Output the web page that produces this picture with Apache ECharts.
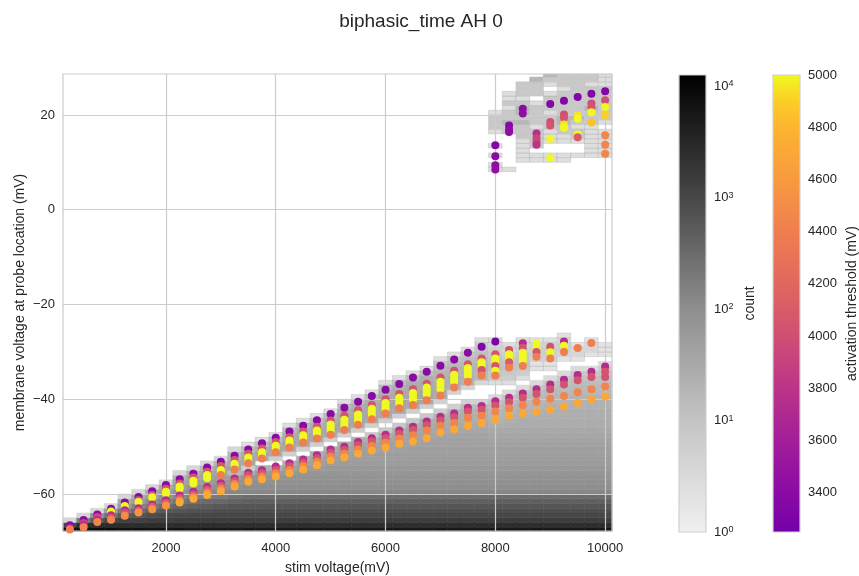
<!DOCTYPE html>
<html>
<head>
<meta charset="utf-8">
<script src="https://cdn.jsdelivr.net/npm/echarts@6/dist/echarts.min.js"></script>
<style>
  html, body { margin: 0; padding: 0; background: #ffffff; }
  #chart { width: 859px; height: 576px; }
</style>
</head>
<body>
<div id="chart"></div>
<script>
// ---- stimulation columns (mV) ----
const stimVoltages = [250, 500, 750, 1000, 1250, 1500, 1750, 2000, 2250, 2500,
  2750, 3000, 3250, 3500, 3750, 4000, 4250, 4500, 4750, 5000,
  5250, 5500, 5750, 6000, 6250, 6500, 6750, 7000, 7250, 7500,
  7750, 8000, 8250, 8500, 8750, 9000, 9250, 9500, 9750, 10000];

// ---- 2D histogram of membrane voltage per stim column ----
// bins are 250 mV wide (centred on the column) and 1 mV tall.
// each entry lists bins from histFloor upward as "level" or "level*repeat";
// level = 2*log10(count), "." = empty bin
const histBinX = 250;
const histBinY = 1;
const histFloor = -68;
// shared lower part of the columns from 3500 mV on (-68 .. -56 mV)
const histBase = "7.5,6.8,6.3,6,5.8,5.6,5.3,5,4.2,4,3.9,3.8";
const histColumns = [
  "7.8,6,1.2",
  "7.8,6.8,4.5,1.2",
  "7.8,6.8,5.5,3.8,1.2",
  "7.8,6.8,6,4.8,3.5,1.2",
  "7.7,6.8,6.2,5.5,4.5,3.5,3,1.2",
  "7.7,6.8,6.2,5.6,5,4.2,3.4,3,1.2",
  "7.6,6.8,6.3,5.8,5.3,4.6,4,3.4,3,1.2",
  "7.6,6.8,6.3,6,5.5,5,4.4,3.9,3.4,3,1.2",
  "7.6,6.8,6.3,6,5.6,5.2,4.7,4.2,3.8,3.4,3.2,2.6,1.2",
  "7.5,6.8,6.3,6,5.7,5.3,4.9,4.4,4,3.7,3.4,3.2,2.6,1.2",
  "7.5,6.8,6.3,6,5.7,5.4,5,4.5,4.1,3.8,3.5,3.3,3.1,2.6,1.2",
  "7.5,6.8,6.3,6,5.8,5.5,5.1,4.6,4.2,3.9,3.6,3.4,3.2,3.1,2.6,1.2",
  "7.5,6.8,6.3,6,5.8,5.6,5.2,4.8,4.2,3.9,3.7,3.4,2.4,3.2,3,2.6,2.4,1.2",
  histBase + ",2.8,1.5,3,3.1,2.8,2.3,0.8",
  histBase + ",3.6,2.8,.,3,3.1,2.9,2.3,0.8",
  histBase + ",3.6,2.8,.,1.5,3,3.1,2.9,2.3,0.8",
  histBase + ",3.6,3.3,2.8,.,1.5,3,3.1,3,2.8,2.3,0.8",
  histBase + ",3.7,3.5,3.3,2.8,.,1.5,3,3.1,3,2.8,2.3,0.8",
  histBase + ",3.7,3.5,3.4,3.2,2.8,.,1.5,3,3.1,3,2.8,2.3,0.8",
  histBase + ",3.7,3.6,3.5,3.4,3.2,2.8,.,1.5,3,3.1,3,2.8,2.3,0.8",
  histBase + ",3.7,3.6,3.5,3.4,3.3,3.2,2.8,.,1.5,3,3.1,3,3,2.8,2.3,0.8",
  histBase + ",3.7,3.6,3.5,3.4,3.4,3.3,3.2,2.8,.,1.5,3,3.1,3,3,2.8,2.3,0.8",
  histBase + ",3.7,3.6,3.5,3.4,3.4,3.3,3.2,2.8,1.8,.,1.5,3,3.1,3,3,2.8,2.3,0.8",
  histBase + ",3.7,3.6,3.5,3.4,3.4,3.3,3.3,3.2,2.8,1.8,.,1.5,3,3.1,3.1,3,3,2.8,2.3,0.8",
  histBase + ",3.7,3.6,3.5,3.4,3.4,3.3,3.3,3.2,3.1,2.8,1.8,.,1.5,3,3.1,3.1,3,3,2.8,2.3,0.8",
  histBase + ",3.7,3.6,3.5,3.5,3.4,3.4,3.3,3.3,3.2,3.1,2.8,1.8,.,1.5,3,3.1,3.1,3,3,2.8,2.3,0.8",
  histBase + ",3.7,3.6,3.5,3.5,3.4,3.4,3.3,3.3,3.2,3.1,3,2.8,1.8,.,1.5,3,3.1,3.1,3,3,2.8,2.3,0.8",
  histBase + ",3.7,3.6,3.5,3.5,3.4,3.4,3.3,3.3,3.2,3.1,3,2.9,2.6,1.6,.,1.4,2.8,2.9,2.9,2.8,2.7,2.6,2.4,2,0.8",
  histBase + ",3.7,3.6,3.5,3.5,3.4,3.4,3.3,3.3,3.2,3.1,3,2.9,2.8,2.5,1.5,.,.,1.3,2.7,2.8,2.8,2.7,2.6,2.4,2,0.8",
  histBase + ",3.7,3.6,3.5,3.5,3.4,3.4,3.3,3.3,3.2,3.1,3,2.9,2.8,2.7,2.4,1.4,.,.,1.3,2.6,2.7,2.7,2.6,2.5,2.3,1.9,0.8",
  histBase + ",3.7,3.6,3.5,3.5,3.4,3.4,3.3,3.3,3.2,3.1,3,2.9,2.8,2.7,2.4,1.4,.,.,.,1.2,2.4,2.5,2.6,2.5,2.4,2.2,2,1.7,0.8",
  histBase + ",3.7,3.6,3.5,3.5,3.4,3.4,3.3,3.2,3.1,3,2.8,2.7,2.6,2.5,2.3,2,1,.,.,0.8,1.8,2,2.2,2.2,2,1.8,1.6,1.3,0.8",
  histBase + ",3.7,3.6,3.5,3.5,3.4,3.4,3.3,3.2,3.1,3,2.9,2.8,2.7,2.6,2.5,2.3,2,1,.,0.8,1.6,1.8,2,2,1.8,1.5,1.2,0.8",
  histBase + ",3.7,3.6,3.5,3.5,3.4,3.4,3.3,3.2,3.1,3,2.9,2.9,2.8,2.7,2.6,2.5,2.3,2,1,.,0.8,1.6,1.8,2,2,1.8,1.5,1.2,0.8",
  histBase + ",3.7,3.6,3.5,3.5,3.4,3.4,3.3,3.2,3.1,3,2.9,2.9,2.8,2.7,2.6,2.5,2.4,2.2,1.9,1,.,.,0.6,0.6,1.4,1.6,1.6,1.3,0.7",
  histBase + ",3.7,3.6,3.5,3.5,3.4,3.4,3.3,3.2,3.1,3,2.9,2.9,2.8,2.8,2.7,2.6,2.5,2.4,2.2,1.9,1,.,0.6,0.6,1.4,1.6,1.6,1.3,0.7",
  histBase + ",3.7,3.6,3.5,3.5,3.4,3.4,3.3,3.2,3.1,3,2.9,2.9,2.8,2.8,2.7,2.6,2.5,2.4,2.3,2.1,1.8,1,.,.,0.6,1.3,1.6,1.5,1.2,0.7",
  histBase + ",3.7,3.6,3.5,3.5,3.4,3.4,3.3,3.2,3.1,3,2.9,2.9,2.8,2.8,2.7,2.7,2.6,2.5,2.4,2.3,2.1,1.8,1,.,0.6,1.2,1.2,0.6",
  histBase + ",3.7,3.6,3.5,3.5,3.4,3.4,3.3,3.2,3.1,3,2.9,2.9,2.8,2.8,2.7,2.7,2.6,2.5,2.4,2.3,2.1,1.8,1,.,.,0.6,1.2,1.2,0.6",
  histBase + ",3.7,3.6,3.5,3.5,3.4,3.4,3.3,3.2,3.1,3,2.9,2.9,2.8,2.8,2.7,2.7,2.6,2.5,2.4,2.3,2.2,2,1.7,1,.,0.6,0.6,0.6"
];

// depolarised cluster above 8 mV (same encoding, starting at depolFloor)
const depolFloor = 8;
const depolColumnsX = [8000, 8250, 8500, 8750, 9000, 9250, 9500, 9750, 10000];
const depolColumns = [
  "0.8*2,.,0.8,.,0.8,.*2,0.8,1.8*3,0.8",
  "0.8,.*7,1.8*2,2.5,1.8*2,0.8,1.8,0.8*2",
  ".*2,0.8*5,1.8*3,2.5,1.8,2.5*2,1.8,0.8,1.8*3",
  ".*2,0.8*2,.,1.8*4,0.8,1.8*4,0.8,.,1.8*3,2.5",
  ".*2,0.8*2,.*2,0.8*3,1.8*3,0.8,1.8*3,0.8,.,0.8,1.8,2.5",
  ".*2,0.8*2,.*2,0.8*2,1.8*2,2.5*2,1.8*5,0.8,1.8*3",
  ".*3,0.8,.*2,0.8,1.8*2,0.8,1.8,2.5,1.8*9",
  ".*3,0.8*7,1.8*3,2.5,1.8*4,0.8,1.8*2",
  ".*3,0.8*6,.,0.8,1.8*7,0.8*3"
];

// ---- activating sites: [stim voltage, membrane voltage, activation threshold] ----
const upperBand = [
  [250,-66.6,3400],[250,-67.2,3800],
  [500,-65.5,3400],[500,-66.1,3900],
  [750,-64.3,3400],[750,-64.9,4000],
  [1000,-63.1,3400],[1000,-63.7,5000],
  [1250,-61.8,3400],[1250,-62.5,5000],
  [1500,-60.6,3400],[1500,-61.3,4050],[1500,-61.7,5000],
  [1750,-59.4,3400],[1750,-60.2,4050],[1750,-60.7,5000],
  [2000,-58.1,3400],[2000,-58.9,4050],[2000,-59.5,5000],[2000,-59.9,5000],
  [2250,-56.9,3400],[2250,-57.8,4050],[2250,-58.4,5000],[2250,-58.9,5000],
  [2500,-55.7,3400],[2500,-56.5,4050],[2500,-57.2,5000],[2500,-57.8,5000],
  [2750,-54.4,3400],[2750,-55.3,4050],[2750,-56.0,5000],[2750,-56.6,5000],
  [3000,-53.2,3400],[3000,-54.1,4050],[3000,-54.9,5000],[3000,-55.5,5000],[3000,-56.0,4400],
  [3250,-51.9,3400],[3250,-52.8,4050],[3250,-53.6,5000],[3250,-54.2,5000],[3250,-54.8,4400],
  [3500,-50.6,3400],[3500,-51.5,4050],[3500,-52.3,5000],[3500,-52.9,5000],[3500,-53.5,4400],
  [3750,-49.3,3400],[3750,-50.4,4050],[3750,-51.2,5000],[3750,-51.9,5000],[3750,-52.5,4400],
  [4000,-48.1,3400],[4000,-49.0,4050],[4000,-49.8,5000],[4000,-50.5,5000],[4000,-51.2,4400],
  [4250,-46.8,3400],[4250,-48.0,4050],[4250,-48.7,5000],[4250,-49.4,5000],[4250,-50.2,4400],
  [4500,-45.6,3400],[4500,-46.8,4050],[4500,-47.6,5000],[4500,-48.3,5000],[4500,-49.1,4400],
  [4750,-44.4,3400],[4750,-45.8,4050],[4750,-46.6,5000],[4750,-47.3,5000],[4750,-48.3,4400],
  [5000,-43.1,3400],[5000,-44.5,4050],[5000,-45.3,5000],[5000,-46.0,5000],[5000,-46.7,5000],[5000,-47.5,4400],
  [5250,-41.8,3400],[5250,-43.5,4050],[5250,-44.3,5000],[5250,-45.0,5000],[5250,-45.7,5000],[5250,-46.5,4400],
  [5500,-40.5,3400],[5500,-42.3,4050],[5500,-43.2,5000],[5500,-43.9,5000],[5500,-44.6,5000],[5500,-45.4,4400],
  [5750,-39.3,3400],[5750,-41.2,4050],[5750,-42.0,5000],[5750,-42.7,5000],[5750,-43.4,5000],[5750,-44.2,4400],
  [6000,-38.0,3400],[6000,-40.0,4050],[6000,-40.8,5000],[6000,-41.5,5000],[6000,-42.2,5000],[6000,-43.0,4400],
  [6250,-36.8,3400],[6250,-38.9,4050],[6250,-39.7,5000],[6250,-40.4,5000],[6250,-41.1,5000],[6250,-41.9,4400],
  [6500,-35.4,3400],[6500,-37.9,4050],[6500,-38.7,5000],[6500,-39.4,5000],[6500,-40.1,5000],[6500,-41.2,4400],
  [6750,-34.2,3400],[6750,-36.7,4050],[6750,-37.5,5000],[6750,-38.2,5000],[6750,-38.9,5000],[6750,-40.2,4400],
  [7000,-32.9,3400],[7000,-35.4,4050],[7000,-36.3,5000],[7000,-37.0,5000],[7000,-37.8,5000],[7000,-39.2,4400],
  [7250,-31.6,3400],[7250,-34.0,4050],[7250,-34.8,5000],[7250,-35.5,5000],[7250,-36.2,5000],[7250,-37.5,4400],
  [7500,-30.2,3400],[7500,-32.6,4050],[7500,-33.4,5000],[7500,-34.2,5000],[7500,-35.0,5000],[7500,-36.3,4400],
  [7750,-28.9,3350],[7750,-31.4,4050],[7750,-32.2,5000],[7750,-33.0,5000],[7750,-33.8,4050],[7750,-35.0,4400],
  [8000,-27.8,3300],[8000,-30.5,4050],[8000,-31.4,5000],[8000,-32.2,5000],[8000,-33.0,4050],[8000,-34.0,5000],[8000,-35.0,4400],
  [8250,-29.6,4050],[8250,-30.5,5000],[8250,-31.3,5000],[8250,-32.2,4100],[8250,-33.3,4400],
  [8500,-28.2,3750],[8500,-29.1,4050],[8500,-30.2,5000],[8500,-31.0,5000],[8500,-31.8,5000],[8500,-33.0,4400],
  [8750,-28.3,5000],[8750,-29.4,5000],[8750,-30.0,4050],[8750,-31.0,4400],
  [9000,-28.9,4050],[9000,-30.1,5000],[9000,-31.4,4400],
  [9250,-27.8,3750],[9250,-28.7,5000],[9250,-30.0,4400],
  [9500,-29.2,4400],
  [9750,-28.1,4400]
];

const lowerBand = [
  [250,-67.5,4400],
  [500,-66.6,3750],[500,-67.0,4450],
  [750,-65.4,3750],[750,-65.9,4450],
  [1000,-64.5,3750],[1000,-65.0,4050],[1000,-65.4,4450],
  [1250,-63.4,3750],[1250,-64.0,4050],[1250,-64.6,4500],
  [1500,-63.0,3750],[1500,-63.5,4100],[1500,-63.9,4550],
  [1750,-62.2,3750],[1750,-62.7,4100],[1750,-63.2,4550],
  [2000,-61.3,3750],[2000,-61.9,4100],[2000,-62.4,4550],
  [2250,-60.3,3750],[2250,-60.9,4100],[2250,-61.4,4500],[2250,-61.8,4700],
  [2500,-59.5,3750],[2500,-60.1,4100],[2500,-60.6,4450],[2500,-61.0,4700],
  [2750,-58.5,3750],[2750,-59.1,4100],[2750,-59.7,4450],[2750,-60.2,4700],
  [3000,-57.7,3750],[3000,-58.3,4100],[3000,-58.9,4450],[3000,-59.4,4700],
  [3250,-56.7,3750],[3250,-57.3,4050],[3250,-57.9,4450],[3250,-58.4,4700],
  [3500,-55.5,3750],[3500,-56.1,4050],[3500,-56.8,4450],[3500,-57.4,4700],
  [3750,-55.0,3750],[3750,-55.6,4050],[3750,-56.3,4450],[3750,-56.9,4700],
  [4000,-54.2,3750],[4000,-54.9,4050],[4000,-55.6,4450],[4000,-56.3,4700],
  [4250,-53.5,3750],[4250,-54.2,4050],[4250,-54.9,4450],[4250,-55.6,4700],
  [4500,-52.7,3750],[4500,-53.4,4050],[4500,-54.1,4450],[4500,-54.8,4700],
  [4750,-51.8,3750],[4750,-52.5,4050],[4750,-53.2,4450],[4750,-53.9,4700],
  [5000,-50.6,3750],[5000,-51.3,4050],[5000,-52.1,4450],[5000,-52.9,4700],
  [5250,-50.0,3750],[5250,-50.7,4050],[5250,-51.5,4450],[5250,-52.3,4700],
  [5500,-49.0,3750],[5500,-49.7,4050],[5500,-50.6,4450],[5500,-51.5,4700],
  [5750,-48.2,3750],[5750,-48.9,4050],[5750,-49.8,4450],[5750,-50.8,4700],
  [6000,-47.5,3750],[6000,-48.2,4050],[6000,-49.2,4450],[6000,-50.2,4700],
  [6250,-46.6,3750],[6250,-47.3,4050],[6250,-48.3,4450],[6250,-49.4,4700],
  [6500,-45.8,3750],[6500,-46.5,4050],[6500,-47.6,4450],[6500,-48.9,4700],
  [6750,-44.7,3750],[6750,-45.5,4050],[6750,-46.6,4450],[6750,-48.2,4700],
  [7000,-43.7,3750],[7000,-44.5,4050],[7000,-45.6,4450],[7000,-47.0,4700],
  [7250,-43.0,3750],[7250,-43.8,4050],[7250,-45.0,4450],[7250,-46.4,4700],
  [7500,-41.8,3750],[7500,-42.6,4050],[7500,-43.9,4450],[7500,-45.6,4700],
  [7750,-41.4,3750],[7750,-42.2,4050],[7750,-43.5,4450],[7750,-45.0,4700],
  [8000,-40.4,3750],[8000,-41.3,4050],[8000,-42.6,4450],[8000,-44.3,4700],
  [8250,-39.7,3750],[8250,-40.6,4050],[8250,-41.9,4450],[8250,-43.5,4700],
  [8500,-38.8,3750],[8500,-39.7,4050],[8500,-41.2,4450],[8500,-43.0,4700],
  [8750,-37.9,3750],[8750,-38.9,4050],[8750,-40.5,4450],[8750,-42.6,4700],
  [9000,-36.9,3750],[9000,-37.9,4050],[9000,-39.9,4450],[9000,-42.1,4700],
  [9250,-35.9,3750],[9250,-36.9,4050],[9250,-39.3,4450],[9250,-41.5,4700],
  [9500,-34.9,3750],[9500,-36.0,4050],[9500,-38.5,4450],[9500,-40.8,4700],
  [9750,-34.2,3750],[9750,-35.3,4050],[9750,-37.9,4450],[9750,-40.0,4700],
  [10000,-33.1,3750],[10000,-34.2,4050],[10000,-35.3,4050],[10000,-37.3,4450],[10000,-39.4,4700]
];

const depolarizedSites = [
  [8000,13.6,3350],[8000,11.3,3400],[8000,9.4,3450],[8000,8.5,3450],
  [8250,17.8,3400],[8250,16.9,3400],[8250,16.4,3450],
  [8500,21.3,3400],[8500,20.3,3450],
  [8750,16.1,3750],[8750,15.1,3950],[8750,14.3,3950],[8750,13.7,3800],
  [9000,22.3,3350],[9000,18.5,4000],[9000,17.8,4050],[9000,15.0,5000],[9000,10.9,5000],
  [9250,23.0,3350],[9250,20.1,4000],[9250,19.4,4050],[9250,18.0,4950],[9250,17.3,5000],
  [9500,23.8,3350],[9500,19.9,4950],[9500,19.2,5000],[9500,15.9,5000],[9500,15.3,4100],
  [9750,24.5,3350],[9750,22.4,4000],[9750,21.7,4050],[9750,20.6,5000],[9750,18.4,4850],
  [10000,25.0,3350],[10000,23.1,4000],[10000,21.7,5000],[10000,20.0,4900],[10000,15.7,4450],[10000,13.7,4450],[10000,11.8,4450]
];

// ---- axes and colour scales ----
const stimTicks = [2000, 4000, 6000, 8000, 10000];
const voltTicks = [-60, -40, -20, 0, 20];
const thresholdTicks = [3400, 3600, 3800, 4000, 4200, 4400, 4600, 4800, 5000];
const countLogTicks = [0, 1, 2, 3, 4];
const countLogMax = 4.0985;                 // log10 of the largest bin count
const countShadeStops = [[0, 240], [1, 196], [2, 142], [3, 71], [4.0985, 0]];
const thresholdStops = [
  [3250, '#7301a8'], [3400, '#8a0aa5'], [3600, '#a31d9a'], [3800, '#bb3488'],
  [4000, '#cf4f72'], [4200, '#e0675f'], [4400, '#ef7e50'], [4600, '#f89a3f'],
  [4800, '#fdb52f'], [4900, '#fbcf26'], [5000, '#f0f921']
];

const FONT = "'Liberation Sans', Arial, Helvetica, sans-serif";
const TXT = '#262626';
const GRIDC = '#cccccc';

function expandRuns(code) {
  const out = [];
  code.split(',').forEach(tok => {
    const parts = tok.split('*');
    const reps = parts.length > 1 ? parseInt(parts[1], 10) : 1;
    for (let i = 0; i < reps; i++) out.push(parts[0] === '.' ? null : Number(parts[0]));
  });
  return out;
}

const histCells = [];
function addColumn(x, code, floor) {
  expandRuns(code).forEach((lv, k) => {
    if (lv === null) return;
    const y0 = floor + k * histBinY;
    histCells.push([x - histBinX / 2, x + histBinX / 2, y0, y0 + histBinY, Math.pow(10, lv / 2)]);
  });
}
stimVoltages.forEach((x, i) => addColumn(x, histColumns[i], histFloor));
depolColumnsX.forEach((x, i) => addColumn(x, depolColumns[i], depolFloor));

function grayForLog(l) {
  for (let i = 1; i < countShadeStops.length; i++) {
    const a = countShadeStops[i - 1], b = countShadeStops[i];
    if (l <= b[0]) {
      const t = (l - a[0]) / (b[0] - a[0]);
      return Math.round(a[1] + (b[1] - a[1]) * Math.max(0, t));
    }
  }
  return 0;
}
function grayCss(l) { const g = grayForLog(l); return 'rgb(' + g + ',' + g + ',' + g + ')'; }

function hexToRgb(h) { return [parseInt(h.slice(1, 3), 16), parseInt(h.slice(3, 5), 16), parseInt(h.slice(5, 7), 16)]; }
function thresholdColor(v) {
  if (v <= thresholdStops[0][0]) return thresholdStops[0][1];
  for (let i = 1; i < thresholdStops.length; i++) {
    const a = thresholdStops[i - 1], b = thresholdStops[i];
    if (v <= b[0]) {
      const t = (v - a[0]) / (b[0] - a[0]);
      const ca = hexToRgb(a[1]), cb = hexToRgb(b[1]);
      return 'rgb(' + ca.map((c, j) => Math.round(c + (cb[j] - c) * t)).join(',') + ')';
    }
  }
  return thresholdStops[thresholdStops.length - 1][1];
}

const countGradient = new echarts.graphic.LinearGradient(0, 0, 0, 1,
  countShadeStops.map(s => ({ offset: 1 - s[0] / countLogMax, color: grayCss(s[0]) })).reverse());
const thrMin = thresholdStops[0][0], thrMax = thresholdStops[thresholdStops.length - 1][0];
const thresholdGradient = new echarts.graphic.LinearGradient(0, 0, 0, 1,
  thresholdStops.map(s => ({ offset: (thrMax - s[0]) / (thrMax - thrMin), color: s[1] })).reverse());

function renderCell(params, api) {
  const p0 = api.coord([api.value(0), api.value(3)]);
  const p1 = api.coord([api.value(1), api.value(2)]);
  const cs = params.coordSys;
  const rect = echarts.graphic.clipRectByRect(
    { x: p0[0], y: p0[1], width: p1[0] - p0[0], height: p1[1] - p0[1] },
    { x: cs.x, y: cs.y, width: cs.width, height: cs.height });
  if (!rect) return;
  const l = Math.log10(api.value(4));
  const fill = grayCss(l);
  const light = l < 0.5;
  return {
    type: 'rect',
    shape: rect,
    style: { fill: fill, stroke: light ? 'rgba(0,0,0,0.09)' : fill, lineWidth: light ? 1 : 0.6 }
  };
}

const tickLabel = { color: TXT, fontSize: 13, fontFamily: FONT, formatter: v => String(v) };
const nameStyle = { color: TXT, fontSize: 14, fontFamily: FONT };

const chart = echarts.init(document.getElementById('chart'), null, { renderer: 'canvas' });
chart.setOption({
  animation: false,
  backgroundColor: '#ffffff',
  graphic: [{
    type: 'text', x: 421, y: 22,
    style: { text: 'biphasic_time AH 0', fill: TXT, font: '19px ' + FONT, align: 'center', verticalAlign: 'middle' }
  }],
  grid: [
    { left: 63, top: 74, width: 549, height: 457, show: true, borderColor: GRIDC, borderWidth: 1.2,
      backgroundColor: 'transparent', containLabel: false, outerBoundsMode: 'none' },
    { left: 679, top: 75, width: 27, height: 457, show: true, borderColor: '#d0d0d0', borderWidth: 1.2,
      backgroundColor: countGradient, containLabel: false, outerBoundsMode: 'none' },
    { left: 773, top: 75, width: 27, height: 457, show: true, borderColor: '#d0d0d0', borderWidth: 1.2,
      backgroundColor: thresholdGradient, containLabel: false, outerBoundsMode: 'none' }
  ],
  xAxis: [
    {
      gridIndex: 0, type: 'value', min: 125, max: 10125,
      axisLine: { show: false },
      axisTick: { show: false, customValues: stimTicks },
      axisLabel: Object.assign({ customValues: stimTicks, margin: 11 }, tickLabel),
      splitLine: { show: true, lineStyle: { color: GRIDC, width: 1.2 } },
      name: 'stim voltage(mV)', nameLocation: 'middle', nameGap: 30, nameMoveOverlap: false, nameTextStyle: nameStyle
    },
    { gridIndex: 1, type: 'value', min: 0, max: 1, show: false },
    { gridIndex: 2, type: 'value', min: 0, max: 1, show: false }
  ],
  yAxis: [
    {
      gridIndex: 0, type: 'value', min: -67.8, max: 28.65,
      axisLine: { show: false },
      axisTick: { show: false, customValues: voltTicks },
      axisLabel: Object.assign({}, tickLabel, { customValues: voltTicks, margin: 8, formatter: v => String(v).replace('-', '\u2212') }),
      splitLine: { show: true, lineStyle: { color: GRIDC, width: 1.2 } },
      name: 'membrane voltage at probe location (mV)', nameLocation: 'middle', nameGap: 36, nameMoveOverlap: false, nameTextStyle: nameStyle
    },
    {
      gridIndex: 1, type: 'value', min: 0, max: countLogMax, position: 'right',
      axisLine: { show: false }, splitLine: { show: false },
      axisTick: { show: false, customValues: countLogTicks },
      axisLabel: {
        customValues: countLogTicks, margin: 8,
        formatter: v => '{b|10}{s|' + Math.round(v) + '}',
        rich: {
          b: { color: TXT, fontSize: 13, fontFamily: FONT, verticalAlign: 'bottom' },
          s: { color: TXT, fontSize: 9, fontFamily: FONT, verticalAlign: 'top' }
        }
      },
      name: 'count', nameLocation: 'middle', nameGap: 37, nameRotate: 90, nameMoveOverlap: false, nameTextStyle: nameStyle
    },
    {
      gridIndex: 2, type: 'value', min: thrMin, max: thrMax, position: 'right',
      axisLine: { show: false }, splitLine: { show: false },
      axisTick: { show: false, customValues: thresholdTicks },
      axisLabel: Object.assign({ customValues: thresholdTicks, margin: 8 }, tickLabel),
      name: 'activation threshold (mV)', nameLocation: 'middle', nameGap: 45, nameRotate: 90, nameMoveOverlap: false, nameTextStyle: nameStyle
    }
  ],
  series: [
    {
      name: 'count', type: 'custom', xAxisIndex: 0, yAxisIndex: 0, z: -1,
      renderItem: renderCell, data: histCells, silent: true,
      encode: { x: [0, 1], y: [2, 3] }
    },
    {
      name: 'activation threshold', type: 'scatter', xAxisIndex: 0, yAxisIndex: 0, z: 3,
      symbolSize: 8, silent: true,
      data: upperBand.concat(lowerBand, depolarizedSites),
      itemStyle: { color: p => thresholdColor(p.value[2]), opacity: 1 }
    }
  ]
});
</script>
</body>
</html>
